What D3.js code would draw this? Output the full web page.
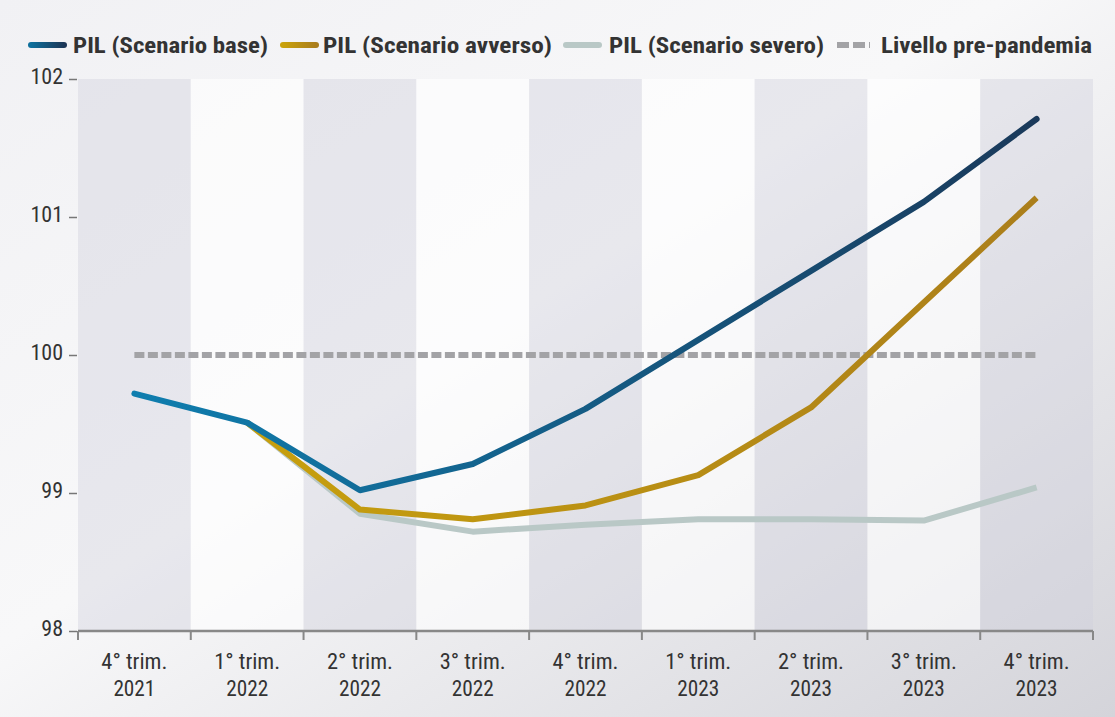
<!DOCTYPE html>
<html lang="it">
<head>
<meta charset="utf-8">
<script src="https://d3js.org/d3.v7.min.js"></script>
<style>
  body { margin: 0; background: #fff; }
  svg text { font-family: "Roboto Condensed", "Liberation Sans Narrow", "Roboto", sans-serif; fill: #333; }
</style>
</head>
<body>
<div id="chart"></div>
<script>
"use strict"
// dati
var trimestri = ["4° trim.|2021", "1° trim.|2022", "2° trim.|2022", "3° trim.|2022", "4° trim.|2022",
                 "1° trim.|2023", "2° trim.|2023", "3° trim.|2023", "4° trim.|2023"];
var pilBase     = [99.72, 99.51, 99.02, 99.21, 99.61, 100.11, 100.61, 101.11, 101.71];
var pilAvverso  = [null, 99.51, 98.88, 98.81, 98.91, 99.13, 99.62, 100.38, 101.14];
var pilSevero   = [null, 99.51, 98.85, 98.72, 98.77, 98.81, 98.81, 98.80, 99.04];
var preCovid    = [100, 100, 100, 100, 100, 100, 100, 100, 100];
var yTicks      = [98, 99, 100, 101, 102];
var legenda     = ["PIL (Scenario base)", "PIL (Scenario avverso)", "PIL (Scenario severo)", "Livello pre-pandemia"];

var larguraSVG = 1115, alturaSVG = 717;
var margin = {top: 79, right: 22, bottom: 86, left: 78},
    larguraVis = larguraSVG - margin.left - margin.right,
    alturaVis = alturaSVG - margin.top - margin.bottom;

var svg = d3.select('#chart').append('svg')
  .attr('width', larguraSVG)
  .attr('height', alturaSVG);

var defs = svg.append('defs');
var bg = defs.append('linearGradient').attr('id', 'bg')
  .attr('x1', '0%').attr('y1', '0%').attr('x2', '100%').attr('y2', '100%');
bg.append('stop').attr('offset', '0%').attr('stop-color', '#f1f1f4');
bg.append('stop').attr('offset', '45%').attr('stop-color', '#f8f8f9');
bg.append('stop').attr('offset', '100%').attr('stop-color', '#d4d4da');

svg.append('rect').attr('width', larguraSVG).attr('height', alturaSVG).attr('fill', 'url(#bg)');

var grafico = svg.append('g')
  .attr('transform', 'translate(' + margin.left + ',' + margin.top + ')');

var x = d3.scaleBand().domain(trimestri).range([0, larguraVis]);
var y = d3.scaleLinear().domain([98, 102]).range([alturaVis, 0]);

// gradienti delle linee
function grad(id, x1, x2, c1, c2) {
  var g = defs.append('linearGradient').attr('id', id)
    .attr('gradientUnits', 'userSpaceOnUse')
    .attr('x1', x1).attr('x2', x2).attr('y1', 0).attr('y2', 0);
  g.append('stop').attr('offset', '0%').attr('stop-color', c1);
  g.append('stop').attr('offset', '100%').attr('stop-color', c2);
}
grad('gBase', x(trimestri[0]), larguraVis, '#0e82b4', '#1b3555');
grad('gAvv', x(trimestri[1]), larguraVis, '#c9a20c', '#a97c1c');

// bande
grafico.selectAll('rect.banda')
  .data(trimestri)
  .enter().append('rect')
    .attr('class', 'banda')
    .attr('x', d => x(d))
    .attr('y', 0)
    .attr('width', x.bandwidth())
    .attr('height', alturaVis)
    .attr('fill', (d, i) => i % 2 == 0 ? 'rgba(208,208,220,0.4)' : 'rgba(255,255,255,0.6)');

// asse y (solo tacche)
grafico.append('g')
  .call(d3.axisLeft(y).tickValues(yTicks).tickFormat(d3.format('d')).tickSize(8).tickPadding(7))
  .call(g => g.select('.domain').remove())
  .call(g => g.selectAll('.tick line').attr('stroke', '#777').attr('stroke-width', 1.5).attr('transform', 'translate(-1,0)'))
  .call(g => g.selectAll('.tick text').attr('font-size', 22).attr('fill', '#333').attr('dy', '0.22em'));

// linee
var linea = d3.line()
  .defined(d => d != null)
  .x((d, i) => x(trimestri[i]) + x.bandwidth() / 2)
  .y(d => y(d));

grafico.append('path').datum(preCovid)
  .attr('d', linea).attr('fill', 'none')
  .attr('stroke', '#a3a3a6').attr('stroke-width', 6).attr('stroke-dasharray', '10,3.5');

grafico.append('path').datum(pilSevero)
  .attr('d', linea).attr('fill', 'none')
  .attr('stroke', '#b9c8c6').attr('stroke-width', 6).attr('stroke-linejoin', 'round');

grafico.append('path').datum(pilAvverso)
  .attr('d', linea).attr('fill', 'none')
  .attr('stroke', 'url(#gAvv)').attr('stroke-width', 6).attr('stroke-linejoin', 'round');

grafico.append('path').datum(pilBase)
  .attr('d', linea).attr('fill', 'none')
  .attr('stroke', 'url(#gBase)').attr('stroke-width', 6).attr('stroke-linejoin', 'round').attr('stroke-linecap', 'round');

// asse x
var xAxis = grafico.append('g')
  .attr('transform', 'translate(0,' + alturaVis + ')');
xAxis.append('line').attr('x1', 0).attr('x2', larguraVis).attr('stroke', '#888').attr('stroke-width', 2.5);
xAxis.selectAll('line.tacca')
  .data(d3.range(trimestri.length + 1))
  .enter().append('line')
    .attr('class', 'tacca')
    .attr('x1', i => i * x.step()).attr('x2', i => i * x.step())
    .attr('y1', 0).attr('y2', 9)
    .attr('stroke', '#888').attr('stroke-width', 2);
var etichette = xAxis.selectAll('text')
  .data(trimestri)
  .enter().append('text')
    .attr('text-anchor', 'middle')
    .attr('font-size', 22)
    .attr('x', d => x(d) + x.bandwidth() / 2);
etichette.append('tspan').attr('x', d => x(d) + x.bandwidth() / 2).attr('y', 38)
  .attr('textLength', 66).attr('lengthAdjust', 'spacingAndGlyphs').text(d => d.split('|')[0]);
etichette.append('tspan').attr('x', d => x(d) + x.bandwidth() / 2).attr('y', 65)
  .attr('textLength', 42).attr('lengthAdjust', 'spacingAndGlyphs').text(d => d.split('|')[1]);

// legenda
var legX = [31, 283, 566, 837];
var legTx = [73, 323, 609, 881];
var legW = [195, 229, 215, 211];
var stili = [
  {stroke: 'url(#gLegB)', dash: null},
  {stroke: 'url(#gLegA)', dash: null},
  {stroke: '#b9c8c6', dash: null},
  {stroke: '#a3a3a6', dash: '12,4'}
];
grad('gLegB', 31, 65, '#0e6f9c', '#1b3555');
grad('gLegA', 283, 317, '#c9a20c', '#a97c1c');

var leg = svg.append('g');
legenda.forEach(function(t, i) {
  leg.append('line')
    .attr('x1', legX[i]).attr('x2', legX[i] + 33)
    .attr('y1', 45).attr('y2', 45)
    .attr('stroke', stili[i].stroke).attr('stroke-width', 6)
    .attr('stroke-linecap', stili[i].dash ? 'butt' : 'round')
    .attr('stroke-dasharray', stili[i].dash);
  leg.append('text')
    .attr('x', legTx[i]).attr('y', 53)
    .attr('font-size', 22).attr('font-weight', 'bold')
    .attr('textLength', legW[i]).attr('lengthAdjust', 'spacingAndGlyphs')
    .text(t);
});
</script>
</body>
</html>
